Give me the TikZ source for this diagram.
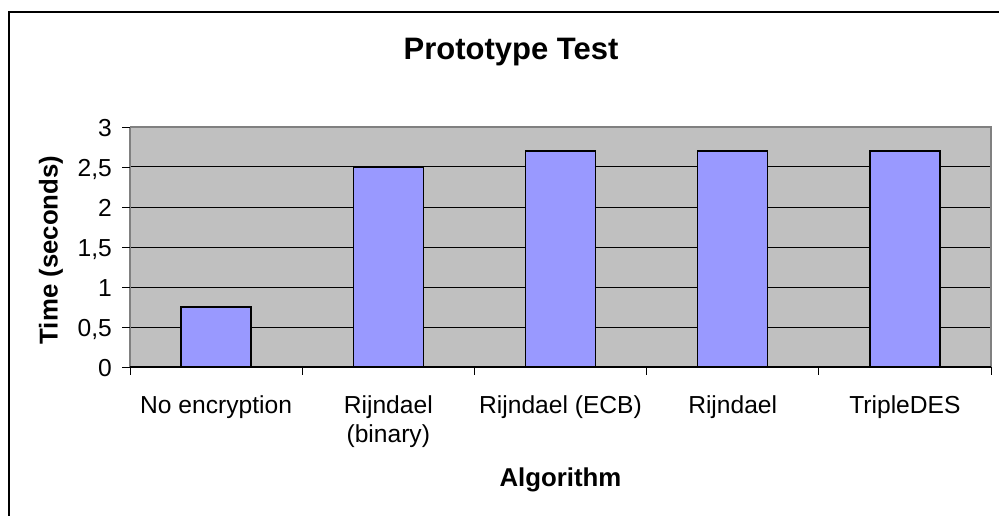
\documentclass[tikz,border=0pt]{standalone}
\usepackage{fontspec}
\setmainfont{Liberation Sans}
\definecolor{plotbg}{HTML}{C0C0C0}
\definecolor{barfill}{HTML}{9999FF}
\definecolor{frame}{HTML}{808080}
\begin{document}
\begin{tikzpicture}[x=1pt,y=-1pt,
  ticklabel/.style={anchor=base east,inner sep=0pt,font=\fontsize{24.6}{29}\selectfont},
  catlabel/.style={anchor=base,inner sep=0pt,font=\fontsize{24.6}{29}\selectfont},
  axistitle/.style={inner sep=0pt,font=\fontsize{25.8}{30}\selectfont\bfseries},
  bar/.style={fill=barfill,draw=black,line width=1.3pt},
  grid/.style={draw=black,line width=1pt},
  tick/.style={draw=black,line width=0.9pt}]
  % canvas and chart frame
  \useasboundingbox (0,0) rectangle (999,516);
  \fill[white] (0,0) rectangle (999,516);
  \draw[line width=1.3pt] (9,520) -- (9,12) -- (1003,12);

  % plot area (0 s at y=367, 80 px per second)
  \fill[plotbg] (130,127) rectangle (991,367);
  \foreach \v in {0.5,1,...,2.5}
    \draw[grid] (130,{367-80*\v}) -- (991,{367-80*\v});
  \draw[frame,line width=1.3pt] (130,127) -- (991,127) -- (991,367);

  % bars
  \foreach \i/\v in {0/0.75,1/2.5,2/2.7,3/2.7,4/2.7}
    \draw[bar] ({130+172.2*(\i+0.5)-35},367) rectangle ({130+172.2*(\i+0.5)+35},{367-80*\v});

  % axes
  \draw[frame,line width=1.3pt] (130,127) -- (130,367);
  \draw[black,line width=1.1pt] (130,367) -- (991,367);
  \foreach \v in {0,0.5,...,3}
    \draw[tick] (122,{367-80*\v}) -- (130,{367-80*\v});
  \foreach \k in {0,...,5}
    \draw[tick] ({130+172.2*\k},367) -- ({130+172.2*\k},375);

  % y tick labels
  \node[ticklabel] (y0)  at (112,376.5) {0};
  \node[ticklabel] (y05) at (112,336.5) {0,5};
  \node[ticklabel] (y1)  at (112,296.5) {1};
  \node[ticklabel] (y15) at (112,256.5) {1,5};
  \node[ticklabel] (y2)  at (112,216.5) {2};
  \node[ticklabel] (y25) at (112,176.5) {2,5};
  \node[ticklabel] (y3)  at (112,136.5) {3};

  % category labels
  \node[catlabel] (c1)  at (216.1,413.5) {No encryption};
  \node[catlabel] (c2)  at (388.3,413.5) {Rijndael};
  \node[catlabel] (c2b) at (388.3,442) {(binary)};
  \node[catlabel] (c3)  at (560.5,413.5) {Rijndael (ECB)};
  \node[catlabel] (c4)  at (732.7,413.5) {Rijndael};
  \node[catlabel] (c5)  at (904.9,413.5) {TripleDES};

  % titles
  \node[anchor=base,inner sep=0pt,font=\fontsize{31}{36}\selectfont\bfseries] (title) at (511,60) {Prototype Test};
  \node[axistitle,anchor=base] (xtitle) at (560.5,486) {Algorithm};
  \node[axistitle,rotate=90] (ytitle) at (51,250) {Time (seconds)};
\end{tikzpicture}
\end{document}
